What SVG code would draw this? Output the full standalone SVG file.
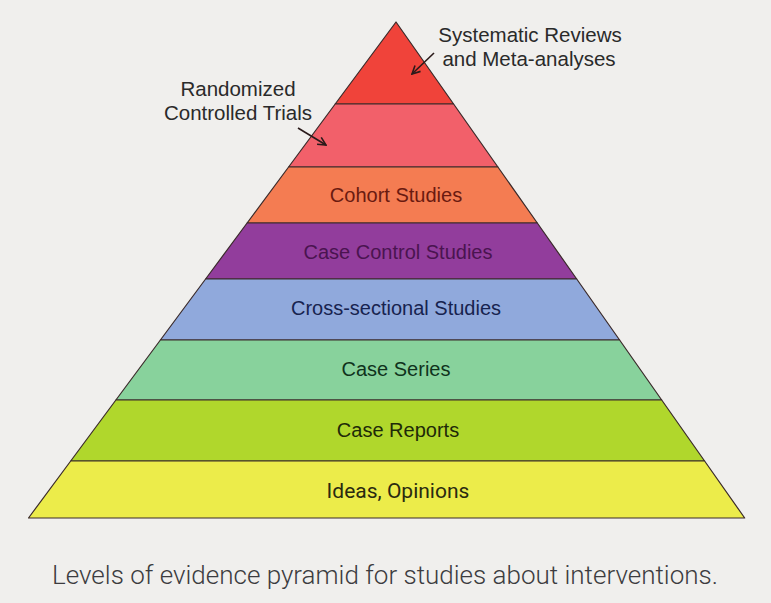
<svg xmlns="http://www.w3.org/2000/svg" width="771" height="603" viewBox="0 0 771 603">
<defs>
<style>
.band{stroke:#3a2a2a;stroke-width:1.2;stroke-linejoin:round}
.lbl{font-family:"Liberation Sans",Arial,sans-serif;font-size:20px;text-anchor:middle}
.note{font-family:"Liberation Sans",Arial,sans-serif;font-size:20.5px;fill:#2a2a2a;text-anchor:middle}
.arrow{stroke:#2a1a1a;stroke-width:1.6;fill:none}
</style>
<marker id="ah" viewBox="0 0 10 10" refX="9" refY="5" markerWidth="10" markerHeight="10" orient="auto" markerUnits="userSpaceOnUse">
<path d="M1,1 L9,5 L1,9" fill="none" stroke="#2a1a1a" stroke-width="1.6"/>
</marker>
</defs>
<rect width="771" height="603" fill="#f0efed"/>
<g id="sr"><polygon class="band" points="396,22 453.6,104 335.2,104" fill="#f0433a"/></g>
<g id="rct"><polygon class="band" points="335.2,104 453.6,104 497.9,167 288.6,167" fill="#f2606a"/></g>
<g id="cohort"><polygon class="band" points="288.6,167 497.9,167 537.3,223 247.1,223" fill="#f47c52"/>
<text class="lbl" x="396" y="202" fill="#6a1a10">Cohort Studies</text></g>
<g id="casecontrol"><polygon class="band" points="247.1,223 537.3,223 576.7,279 205.6,279" fill="#923d9c"/>
<text class="lbl" x="398" y="259" fill="#4a1450">Case Control Studies</text></g>
<g id="cross"><polygon class="band" points="205.6,279 576.7,279 619.6,340 160.4,340" fill="#90a9dc"/>
<text class="lbl" x="396" y="315" fill="#17234f">Cross-sectional Studies</text></g>
<g id="series"><polygon class="band" points="160.4,340 619.6,340 661.7,400 115.9,400" fill="#88d29c"/>
<text class="lbl" x="396" y="376" fill="#10331c">Case Series</text></g>
<g id="reports"><polygon class="band" points="115.9,400 661.7,400 704.6,461 70.7,461" fill="#b0d72c"/>
<text class="lbl" x="398" y="437" fill="#1e2a08">Case Reports</text></g>
<g id="ideas"><polygon class="band" points="70.7,461 704.6,461 744.7,518 28.5,518" fill="#ecec4a"/>
<text class="lbl" x="398" y="498" fill="#2a2a10" style="font-family:Roboto,'Liberation Sans',sans-serif;font-size:21px">Ideas, Opinions</text></g>
<g id="labels">
<text class="note" x="530" y="42">Systematic Reviews</text>
<text class="note" x="529" y="66">and Meta-analyses</text>
<text class="note" x="238" y="96">Randomized</text>
<text class="note" x="238" y="120">Controlled Trials</text>
</g>
<g id="connectors">
<line class="arrow" x1="434" y1="53" x2="412" y2="74" marker-end="url(#ah)"/>
<line class="arrow" x1="298" y1="128" x2="326" y2="145" marker-end="url(#ah)"/>
</g>
<text x="385" y="584" style="font-family:Roboto,'Liberation Sans',sans-serif;font-weight:300;font-size:26px;fill:#3c3c40;text-anchor:middle">Levels of evidence pyramid for studies about interventions.</text>
</svg>
